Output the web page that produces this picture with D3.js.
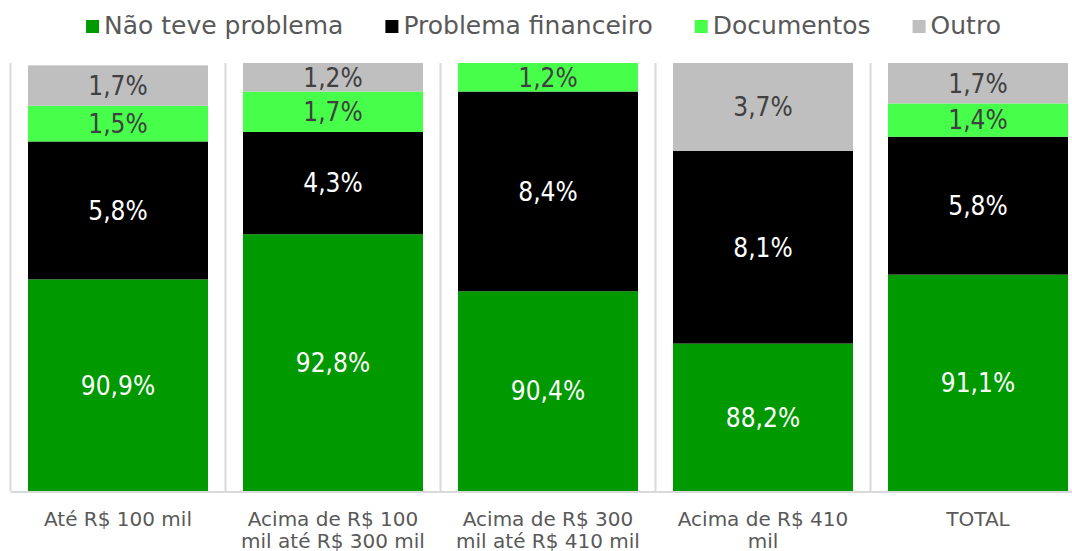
<!DOCTYPE html>
<html><head><meta charset="utf-8">
<script src="https://cdn.jsdelivr.net/npm/d3@7"></script>
<style>body{margin:0;background:#fff}svg{display:block}</style>
</head><body>
<svg id="c" width="1072" height="551"></svg>
<script>
const categories = [["Até R$ 100 mil"], ["Acima de R$ 100", "mil até R$ 300 mil"], ["Acima de R$ 300", "mil até R$ 410 mil"], ["Acima de R$ 410", "mil"], ["TOTAL"]];
const seriesNames = ["Não teve problema", "Problema financeiro", "Documentos", "Outro"];
const naoTeveProblema = [90.9, 92.8, 90.4, 88.2, 91.1];
const problemaFinanceiro = [5.8, 4.3, 8.4, 8.1, 5.8];
const documentos = [1.5, 1.7, 1.2, 0, 1.4];
const outro = [1.7, 1.2, 0, 3.7, 1.7];
const yDomain = [82, 100];

const colors = ["#009900", "#000000", "#47ff4a", "#bfbfbf"];
const labelColors = ["#ffffff", "#ffffff", "#404040", "#404040"];
const seriesVals = [naoTeveProblema, problemaFinanceiro, documentos, outro];

const svg = d3.select("#c");
const keys = categories.map((c, i) => "c" + i);
const x = d3.scaleBand().domain(keys).range([10.5, 1085.5]).paddingInner(35/215).paddingOuter(17.5/215);
const y = d3.scaleLinear().domain(yDomain).range([491, 63]);
const clampV = v => Math.max(yDomain[0], Math.min(yDomain[1], v));

const rows = keys.map((k, i) => {
  const o = {key: k};
  seriesNames.forEach((s, j) => o[s] = seriesVals[j][i]);
  return o;
});
const stack = d3.stack().keys(seriesNames)(rows);

// separators
const step = x.step();
const seps = d3.range(keys.length + 1).map(i => x.range()[0] + i * step);
svg.append("g").selectAll("line").data(seps).join("line")
  .attr("x1", d => d).attr("x2", d => d)
  .attr("y1", y(yDomain[1])).attr("y2", y(yDomain[0]))
  .attr("stroke", "#d9d9d9").attr("stroke-width", 2);

const g = svg.append("g");
stack.forEach((layer, j) => {
  g.append("g").selectAll("rect").data(layer).join("rect")
    .attr("x", d => x(d.data.key))
    .attr("width", x.bandwidth())
    .attr("y", d => y(clampV(d[1])))
    .attr("height", d => Math.max(0, y(clampV(d[0])) - y(clampV(d[1]))))
    .attr("fill", colors[j]);
});

// axis line
svg.append("line").attr("x1", 10.5).attr("x2", 1072).attr("y1", y(yDomain[0]) + 1).attr("y2", y(yDomain[0]) + 1)
  .attr("stroke", "#d9d9d9").attr("stroke-width", 2);

// labels
const fmt = v => v.toFixed(1).replace(".", ",") + "%";
stack.forEach((layer, j) => {
  svg.append("g").selectAll("text").data(layer.filter(d => d[1] - d[0] > 0)).join("text")
    .attr("x", d => x(d.data.key) + x.bandwidth() / 2)
    .attr("y", d => (y(clampV(d[0])) + y(clampV(d[1]))) / 2)
    .attr("dy", "0.36em")
    .attr("text-anchor", "middle")
    .attr("font-family", "'DejaVu Sans Condensed', 'DejaVu Sans', sans-serif")
    .attr("font-stretch", "condensed")
    .attr("font-size", 26)
    .attr("fill", labelColors[j])
    .text(d => fmt(d[1] - d[0]));
});

// category labels
const cg = svg.append("g").attr("font-family", "'DejaVu Sans', sans-serif").attr("font-size", 20).attr("fill", "#595959").attr("text-anchor", "middle");
categories.forEach((lines, i) => {
  const t = cg.append("text").attr("x", x(keys[i]) + x.bandwidth() / 2).attr("y", 526);
  lines.forEach((l, k) => t.append("tspan").attr("x", x(keys[i]) + x.bandwidth() / 2).attr("dy", k ? 22 : 0).text(l));
});

// legend
const lg = svg.append("g");
let cx = 0;
seriesNames.forEach((s, j) => {
  const it = lg.append("g");
  it.append("rect").attr("x", 0).attr("y", -14).attr("width", 13).attr("height", 13).attr("fill", colors[j]);
  const t = it.append("text").attr("x", 18).attr("y", 0).attr("font-family", "'DejaVu Sans', sans-serif")
    .attr("font-size", 25).attr("fill", "#595959").text(s);
  const w = 18 + t.node().getComputedTextLength();
  it.attr("transform", `translate(${cx},0)`);
  cx += w + 42;
});
const total = cx - 42;
lg.attr("transform", `translate(${543.5 - total / 2},34)`);
</script>
</body></html>
